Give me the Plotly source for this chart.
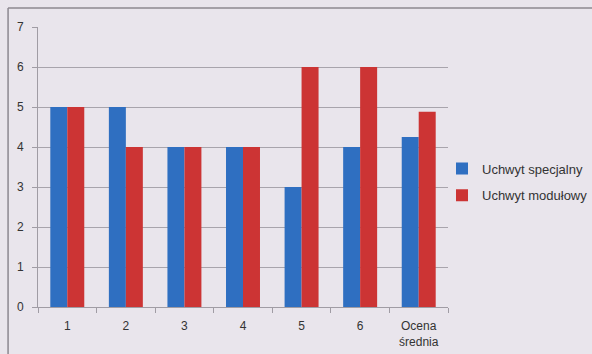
import plotly.graph_objects as go

categories = ["1", "2", "3", "4", "5", "6", "Ocena<br>średnia"]
specjalny = [5, 5, 4, 4, 3, 4, 4.25]
modulowy = [5, 4, 4, 4, 6, 6, 4.88]
series_names = ["Uchwyt specjalny", "Uchwyt modułowy"]

BG = "#e9e5ec"
fig = go.Figure()
fig.add_trace(go.Bar(x=categories, y=specjalny, name=series_names[0], legendgroup="a",
                     marker=dict(color="#2f6fc1", line=dict(width=0))))
fig.add_trace(go.Bar(x=categories, y=modulowy, name=series_names[1], legendgroup="b",
                     marker=dict(color="#cc3434", line=dict(width=0))))

fig.update_layout(
    width=592, height=354,
    margin=dict(l=38, r=144, t=27, b=47, autoexpand=False),
    paper_bgcolor=BG, plot_bgcolor=BG,
    barmode="group", bargap=0.42, bargroupgap=0,
    font=dict(family="Liberation Sans, Arial", size=12, color="#333"),
    showlegend=True,
    legend=dict(xref="container", yref="container", x=442/592, y=1 - 182/354,
                xanchor="left", yanchor="middle",
                bgcolor="rgba(0,0,0,0)", font=dict(size=13, color="#333"),
                itemwidth=30, tracegroupgap=7),
    xaxis=dict(showline=True, linecolor="#a09ca4", linewidth=1,
               ticks="outside", tickson="boundaries", ticklen=5, tickcolor="#a09ca4",
               tickfont=dict(size=12, color="#333"), showgrid=False,
               ticklabelstandoff=8),
    yaxis=dict(range=[0, 7], dtick=1, showline=True, linecolor="#a09ca4",
               gridcolor="#a8a4ac", gridwidth=1, ticks="outside", ticklen=5,
               tickcolor="#a09ca4", tickfont=dict(size=12, color="#333"),
               zeroline=False, ticklabelstandoff=6),
    shapes=[
        dict(type="line", xref="paper", yref="paper", x0=-0.073, x1=1.5,
             y0=1.068, y1=1.068, line=dict(color="#8c8890", width=1.5)),
        dict(type="line", xref="paper", yref="paper", x0=-0.073, x1=-0.073,
             y0=1.068, y1=-0.3, line=dict(color="#8c8890", width=1.5)),
    ],
)
fig.write_html("out.html")
